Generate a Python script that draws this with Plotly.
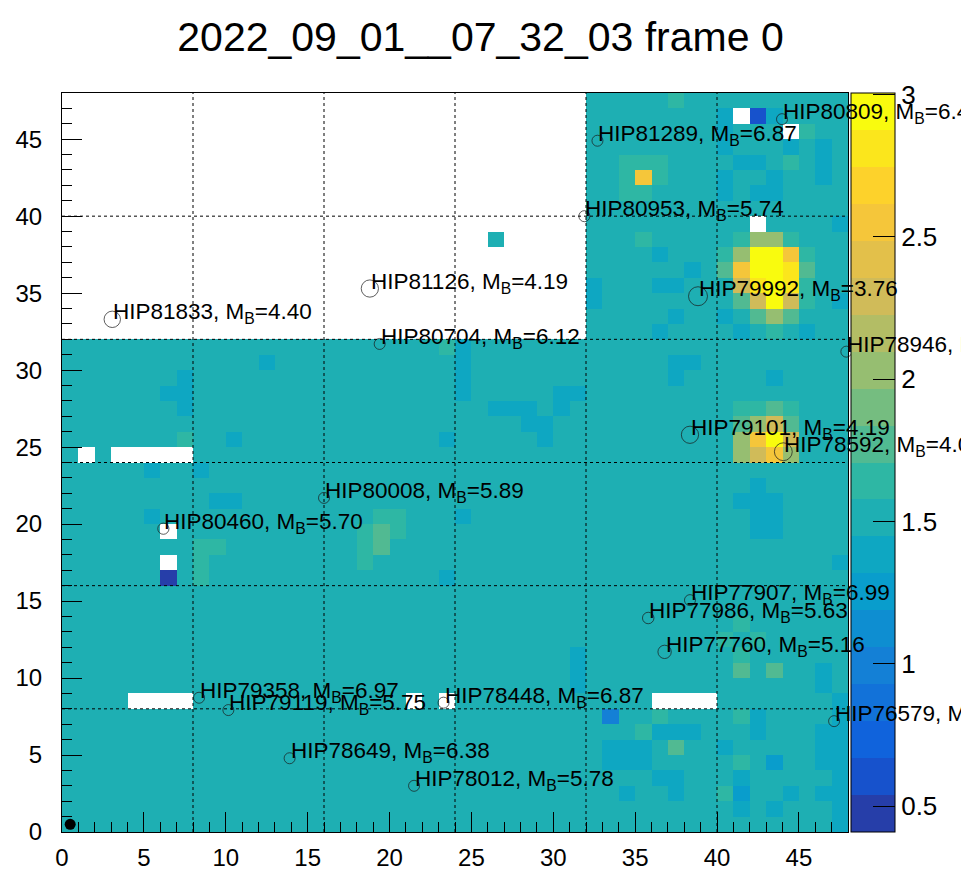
import plotly.graph_objects as go

TITLE = "2022_09_01__07_32_03 frame 0"

# cell level codes ('.' = empty bin)
LEVELS = {'a': 0.45, 'b': 0.6, 'c': 1.0, 'D': 1.25, 'd': 1.38, 'e': 1.52,
          'f': 1.65, 'g': 1.78, 'h': 2.03, 'i': 2.3, 'j': 2.55, 'k': 2.8, 'l': 2.95}

# rows from y bin 47 (top) down to y bin 0 (bottom); groups of 8 columns
ROWS_TOP_DOWN = [
    "........ ........ ........ ........ eeeeefee eeeeeeee",  # 47
    "........ ........ ........ ........ eeeeeeee d.bdeeee",  # 46
    "........ ........ ........ ........ eeeeeeee deee.fee",  # 45
    "........ ........ ........ ........ eeeeeeee deeedede",  # 44
    "........ ........ ........ ........ eefffeee eddefede",  # 43
    "........ ........ ........ ........ eefjfeee deedeede",  # 42
    "........ ........ ........ ........ eeffeeee deddeeee",  # 41
    "........ ........ ........ ........ eeeeeeee eeeeeeee",  # 40
    "........ ........ ........ ........ eeeeeeee ee.eeeed",  # 39
    "........ ........ ........ ..e..... eeefeeee efhhfeee",  # 38
    "........ ........ ........ ........ eeeedeee fhlljfee",  # 37
    "........ ........ ........ ........ eeeeeede gjllkgee",  # 36
    "........ ........ ........ ........ deeeddee eiklkfee",  # 35
    "........ ........ ........ ........ deeeeeee egilifed",  # 34
    "........ ........ ........ ........ eeeeedee deghgeee",  # 33
    "........ ........ ........ ........ eeeedeee edefedee",  # 32
    "eeeeeeee eeeeeeee eeeeeeef deeeeeee eeeeeeee eeeeeeee",  # 31
    "eeeeeeee eeeedeee eeeeeeee deeeeeee eeeeedde eeeeeeee",  # 30
    "eeeeeeed eeeeeeee eeeeeeee deeeeeee eeeeedee eeedeeee",  # 29
    "eeeeeedd eeeeeeee eeeeeeee deeeeedd eeeeeeee eeeeeeee",  # 28
    "eeeeeeed eeeeeeee eeeeeeee eedddede eeeeeeee effgfeee",  # 27
    "eeeeeeee eeeeeeee eeeeeeee eeeeddee eeeeeeee eghigeee",  # 26
    "eeeeeeef eedeeeee eeeeeeed eeeeedee eeeeeeee ehjlieee",  # 25
    "e.e..... eeeeeeee eeeeeeee eeeeeeee eeeeeeee ehijheee",  # 24
    "eeeeedee deeeeeee eeeeeeee eeeeeeee eeeeeeee eeeeeeee",  # 23
    "eeeeeeee eeeeeeee eeeeeeee eeeeeeee eeeeeeee eedeeeee",  # 22
    "eeeeeeee eddeeeee eeeeeeee eeeeeeee eeeeeeee edddeeee",  # 21
    "eeeeedee eeeeeeee eeeffeee deeeeeee eeeeeeee eeddeeee",  # 20
    "eeeeee.e eeeeeeee eefgfeee eeeeeeee eeeeeeee eeddeeee",  # 19
    "eeeeeeee ffeeeeee eefgeeee eeeeeeee eeeeeeee eeeeeeee",  # 18
    "eeeeee.e feeeeeee eefeeeee eeeeeeee eeeeeeee eeeeeeed",  # 17
    "eeeeeeae feeeeeee eeeeeeed eeeeeeee eeeeeeee eeeeeeee",  # 16
    "eeeeeeee eeeeeeee eeeeeeee eeeeeeee eeeeeeee eeeeeeee",  # 15
    "eeeeeeee eeeeeeee eeeeeeee eeeeeeee eeeeeeee eeeeeeee",  # 14
    "eeeeeeee eeeeeeee eeeeeeee eeeeeeee eeeeeeee efeeeeee",  # 13
    "eeeeeeee eeeeeeee eeeeeeee eeeeeeee eeeeeeee fefeeeee",  # 12
    "eeeeeeee eeeeeeee eeeeeeee eeeeeeed eeeeeeee efeeeeee",  # 11
    "eeeeeeee eeeeeeee eeeeeeee eeeeeeed eeeeeeee egegeede",  # 10
    "eeeeeeee eeeeeeee eeeeeeee eeeeeeed eeeeeeee eeeeeede",  # 9
    "eeee.... eeeeeeee eeeee.e. eeeeeeee eeee.... eeeeeeed",  # 8
    "eeeeeeee eeeeeeee eeeeeeee eeeeeeee eceefeee efdeeeed",  # 7
    "eeeeeeee eeeeeeee eeeeeeee eeeeeeee eeefddde eedeeedd",  # 6
    "eeeeeeee eeeeeeee eeeeeeee eeeeeeee edddegee deeeeedd",  # 5
    "eeeeeeee eeeeeeee eeeeeeee eeeeeeee edddeeee efeDeedd",  # 4
    "eeeeeeee eeeeeeee eeeeeeee eeeeeeee eeeeddee edeeeeed",  # 3
    "eeeeeeee eeeeeeee eeeeeeee eeeeeeee eedeedee fDeededd",  # 2
    "eeeeeeee eeeeeeee eeeeeeee eeeeeeee eeeeeeee ededeeed",  # 1
    "eeeeeeee eeeeeeee eeeeeeee eeeeeeee eeeeeeee eeeeeeed",  # 0
]

Z_MIN, Z_MAX = 0.41, 3.005
CBAR_TICKS = [0.5, 1, 1.5, 2, 2.5, 3]
CBAR_TICKTEXT = ["0.5", "1", "1.5", "2", "2.5", "3"]

STAR_NAMES = ["HIP80809", "HIP81289", "HIP80953", "HIP81126", "HIP81833", "HIP80704",
              "HIP79992", "HIP78946", "HIP79101", "HIP78592", "HIP80008", "HIP80460",
              "HIP77907", "HIP77986", "HIP77760", "HIP76579", "HIP79358", "HIP79119",
              "HIP78448", "HIP78649", "HIP78012"]
STAR_MAG = [6.43, 6.87, 5.74, 4.19, 4.40, 6.12, 3.76, 6.05, 4.19, 4.04, 5.89, 5.70,
            6.99, 5.63, 5.16, 6.21, 6.97, 5.75, 6.87, 6.38, 5.78]
STAR_X = [43.97, 32.7, 31.9, 18.8, 3.07, 19.4, 38.84, 47.9, 38.35, 44.05, 16.0, 6.19,
          38.35, 35.8, 36.8, 47.15, 8.37, 10.16, 23.3, 13.9, 21.5]
STAR_Y = [46.3, 44.9, 40.0, 35.3, 33.3, 31.7, 34.8, 31.2, 25.8, 24.7, 21.7, 19.7,
          15.06, 13.9, 11.7, 7.2, 8.72, 7.92, 8.4, 4.79, 3.0]
CENTER_X = [0.5]
CENTER_Y = [0.5]

# ---- build matrix
rows = [r.replace(" ", "") for r in ROWS_TOP_DOWN]
assert all(len(r) == 48 for r in rows), [len(r) for r in rows]
z = [[LEVELS.get(ch) for ch in r] for r in reversed(rows)]

# ---- ROOT kBird palette, 20 contour bands
BS = [0.0, 0.125, 0.25, 0.375, 0.5, 0.625, 0.75, 0.875, 1.0]
BR = [0.2082, 0.0592, 0.0780, 0.0232, 0.1802, 0.5301, 0.8186, 0.9956, 0.9764]
BG = [0.1664, 0.3599, 0.5041, 0.6419, 0.7178, 0.7492, 0.7328, 0.7862, 0.9832]
BB = [0.5293, 0.8684, 0.8385, 0.7914, 0.6425, 0.4662, 0.3499, 0.1968, 0.0539]


def bird(f):
    f = min(max(f, 0.0), 1.0)
    for i in range(len(BS) - 1):
        if BS[i] <= f <= BS[i + 1]:
            t = (f - BS[i]) / (BS[i + 1] - BS[i])
            r = BR[i] + t * (BR[i + 1] - BR[i])
            g = BG[i] + t * (BG[i + 1] - BG[i])
            b = BB[i] + t * (BB[i + 1] - BB[i])
            return "rgb(%d,%d,%d)" % (round(r * 255), round(g * 255), round(b * 255))
    return "rgb(249,251,14)"


NB = 20
cs = []
for k in range(NB):
    c = bird(min((k + 0.99) / NB, 1.0))
    cs.append([k / NB, c])
    cs.append([(k + 1) / NB, c])

FONT = "Liberation Sans, Arial, Helvetica, sans-serif"

fig = go.Figure()
fig.add_trace(go.Heatmap(
    z=z, x0=0.5, dx=1, y0=0.5, dy=1, zmin=Z_MIN, zmax=Z_MAX, colorscale=cs,
    hoverinfo="skip",
    colorbar=dict(x=1.0038, xanchor="left", xpad=0, y=0.5, yanchor="middle",
                  len=1, lenmode="fraction", ypad=0, thickness=44,
                  outlinewidth=1, outlinecolor="black",
                  ticks="inside", ticklen=22, tickwidth=1, tickcolor="black",
                  tickvals=CBAR_TICKS, ticktext=CBAR_TICKTEXT,
                  tickfont=dict(size=26, family=FONT, color="black")),
))

sizes = [max(11, 34 - 4 * m) for m in STAR_MAG]
fig.add_trace(go.Scatter(
    x=STAR_X, y=STAR_Y, mode="markers", cliponaxis=False, hoverinfo="skip",
    marker=dict(symbol="circle-open", size=sizes, color="#1a1a1a", line=dict(width=1)),
))
fig.add_trace(go.Scatter(
    x=CENTER_X, y=CENTER_Y, mode="markers", hoverinfo="skip",
    marker=dict(symbol="circle", size=11, color="black"),
))

for n, m, x, y in zip(STAR_NAMES, STAR_MAG, STAR_X, STAR_Y):
    fig.add_annotation(x=x, y=y, xref="x", yref="y", showarrow=False,
                       text=f"{n}, M<sub>B</sub>={m:.2f}",
                       xanchor="left", yanchor="bottom", yshift=-10, xshift=-1,
                       font=dict(size=22.5, family=FONT, color="black"))

for v in range(8, 48, 8):
    fig.add_shape(type="line", xref="x", yref="y", x0=v, x1=v, y0=0, y1=48,
                  line=dict(color="black", width=1, dash="3px,3px"), layer="above")
    fig.add_shape(type="line", xref="x", yref="y", x0=0, x1=48, y0=v, y1=v,
                  line=dict(color="black", width=1, dash="3px,3px"), layer="above")

axis_common = dict(
    range=[0, 48], tick0=0, dtick=5, ticks="inside", ticklen=20, tickwidth=1,
    tickcolor="black", showline=True, linecolor="black", linewidth=1, mirror=True,
    showgrid=False, zeroline=False,
    tickfont=dict(size=24, family=FONT, color="black"),
    minor=dict(dtick=1, ticks="inside", ticklen=10, tickwidth=1, tickcolor="black",
               showgrid=False),
)

fig.update_layout(
    width=961, height=881,
    margin=dict(l=62, r=113, t=93, b=49, autoexpand=False),
    paper_bgcolor="white", plot_bgcolor="white",
    showlegend=False,
    title=dict(text=TITLE, x=0.5, xref="container", xanchor="center",
               y=1 - 37 / 881, yref="container", yanchor="middle",
               font=dict(size=41, family=FONT, color="black")),
    xaxis=dict(**axis_common, ticklabelstandoff=4),
    yaxis=dict(**axis_common, ticklabelstandoff=14),
)

fig.write_html("out.html")
